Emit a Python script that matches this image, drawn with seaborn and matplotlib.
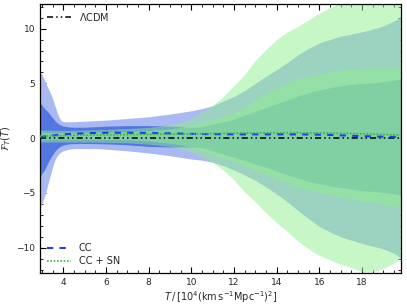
import numpy as np
import seaborn as sns
import matplotlib
import matplotlib.pyplot as plt

matplotlib.use("Agg")
sns.set_style("ticks")
plt.rcParams["font.family"] = ["DejaVu Sans"]
plt.rcParams["mathtext.fontset"] = "dejavusans"

# T grid (10^4 (km/s/Mpc)^2)
T = [2.9, 3.0, 3.1, 3.2, 3.3, 3.4, 3.5, 3.6, 3.7, 3.8, 3.9, 4.0, 4.25, 4.5,
     5.0, 5.5, 6.0, 7.0, 8.0, 9.0, 9.5, 10.0, 10.5, 11.0, 11.5, 12.0, 12.5,
     13.0, 13.5, 14.0, 14.5, 15.0, 15.5, 16.0, 16.5, 17.0, 17.5, 18.0, 18.5,
     19.0, 19.5, 19.8]

# CC reconstruction: mean and 1/2 sigma bands
cc_mean = [0.10, 0.12, 0.15, 0.18, 0.20, 0.22, 0.25, 0.27, 0.29, 0.31, 0.33, 0.35,
           0.38, 0.41, 0.45, 0.48, 0.50, 0.50, 0.48, 0.44, 0.42, 0.40, 0.38, 0.37,
           0.36, 0.35, 0.35, 0.35, 0.35, 0.35, 0.35, 0.35, 0.34, 0.32, 0.30, 0.26,
           0.22, 0.19, 0.16, 0.14, 0.12, 0.10]
cc_hi1 = [3.3, 3.0, 2.75, 2.55, 2.35, 2.1, 1.85, 1.6, 1.42, 1.28, 1.18, 1.1, 1.03, 1.0,
          1.0, 1.05, 1.1, 1.15, 1.15, 1.1, 1.05, 1.0, 1.05, 1.3, 1.5, 1.75, 2.1,
          2.45, 2.8, 3.15, 3.5, 3.85, 4.15, 4.4, 4.6, 4.8, 4.9, 5.0, 5.05, 5.15, 5.3, 5.4]
cc_lo1 = [-3.6, -3.2, -2.95, -2.55, -2.15, -1.8, -1.5, -1.2, -0.98, -0.82, -0.7, -0.62,
          -0.52, -0.5, -0.48, -0.5, -0.52, -0.6, -0.75, -0.8, -0.8, -0.8, -0.85, -1.15,
          -1.45, -1.75, -2.05, -2.35, -2.65, -3.0, -3.35, -3.65, -3.95, -4.15, -4.35,
          -4.5, -4.65, -4.8, -4.85, -4.95, -5.1, -5.2]
cc_hi2 = [6.1, 5.8, 5.4, 4.9, 4.5, 4.1, 3.6, 3.0, 2.4, 1.9, 1.6, 1.5, 1.5, 1.5,
          1.55, 1.6, 1.65, 1.8, 1.95, 2.2, 2.35, 2.5, 2.7, 2.95, 3.4, 3.8, 4.35,
          5.0, 5.65, 6.25, 6.9, 7.6, 8.2, 8.7, 9.0, 9.3, 9.5, 9.7, 9.95, 10.25, 10.7, 11.0]
cc_lo2 = [-6.3, -5.9, -5.4, -4.8, -4.0, -3.3, -2.6, -2.0, -1.65, -1.4, -1.25, -1.15,
          -1.0, -0.95, -0.95, -0.95, -1.0, -1.15, -1.35, -1.6, -1.75, -1.9, -2.0, -2.2,
          -2.5, -2.9, -3.35, -3.85, -4.45, -5.1, -5.8, -6.6, -7.35, -8.05, -8.55,
          -9.0, -9.3, -9.6, -9.85, -10.1, -10.5, -10.9]

# CC + SN reconstruction
ccsn_mean = [0.20, 0.20, 0.20, 0.20, 0.21, 0.21, 0.21, 0.21, 0.22, 0.22, 0.22, 0.22,
             0.24, 0.25, 0.28, 0.29, 0.30, 0.33, 0.35, 0.37, 0.38, 0.40, 0.41, 0.43,
             0.44, 0.46, 0.47, 0.48, 0.49, 0.50, 0.50, 0.50, 0.49, 0.48, 0.47, 0.45,
             0.43, 0.40, 0.38, 0.35, 0.32, 0.30]
ccsn_hi1 = [0.5, 0.5, 0.5, 0.5, 0.5, 0.5, 0.5, 0.5, 0.5, 0.5, 0.5, 0.5, 0.5, 0.5,
            0.5, 0.52, 0.55, 0.6, 0.7, 0.85, 1.0, 1.2, 1.45, 1.65, 1.95, 2.3, 2.8,
            3.5, 4.1, 4.6, 5.0, 5.4, 5.65, 5.9, 6.05, 6.2, 6.3, 6.4, 6.4, 6.4, 6.4, 6.4]
ccsn_lo1 = [-0.1, -0.1, -0.1, -0.1, -0.1, -0.1, -0.1, -0.1, -0.1, -0.1, -0.1, -0.1,
            -0.1, -0.1, -0.1, -0.11, -0.12, -0.15, -0.25, -0.45, -0.6, -0.85, -1.15,
            -1.45, -1.8, -2.1, -2.5, -2.95, -3.35, -3.7, -4.1, -4.45, -4.7, -4.9,
            -5.15, -5.4, -5.55, -5.7, -5.85, -6.0, -6.2, -6.3]
ccsn_hi2 = [0.75, 0.75, 0.74, 0.74, 0.73, 0.73, 0.72, 0.72, 0.72, 0.72, 0.72, 0.72,
            0.72, 0.72, 0.74, 0.77, 0.8, 0.88, 0.98, 1.2, 1.45, 1.8, 2.4, 3.0, 3.8,
            4.8, 5.8, 7.1, 8.1, 9.0, 9.7, 10.2, 10.8, 11.4, 11.9, 12.4, 12.8, 13.2,
            13.5, 13.8, 14.0, 14.1]
ccsn_lo2 = [-0.35, -0.35, -0.35, -0.35, -0.35, -0.35, -0.35, -0.35, -0.35, -0.35,
            -0.35, -0.35, -0.35, -0.35, -0.35, -0.35, -0.38, -0.42, -0.55, -0.75,
            -0.95, -1.25, -1.7, -2.2, -2.9, -3.8, -4.9, -5.8, -6.8, -7.7, -8.5, -9.4,
            -10.1, -10.7, -11.1, -11.5, -11.8, -12.2, -12.2, -11.9, -11.4, -11.0]

# LCDM reference
lcdm = [0.0] * len(T)

fig, ax = plt.subplots(figsize=(4.07, 3.05), dpi=100)
fig.subplots_adjust(left=0.098, right=0.985, top=0.987, bottom=0.105)

ax.fill_between(T, cc_lo2, cc_hi2, color="#aab9f1", lw=0, zorder=1)
ax.fill_between(T, cc_lo1, cc_hi1, color="#5277e3", lw=0, zorder=1)
ax.fill_between(T, ccsn_lo2, ccsn_hi2, color="#90ee90", alpha=0.5, lw=0, zorder=2)
ax.fill_between(T, ccsn_lo1, ccsn_hi1, color="#90ee90", alpha=0.5, lw=0, zorder=2)

sns.lineplot(x=T, y=lcdm, ax=ax, color="black", lw=1.1,
             linestyle=(0, (4, 2, 1, 2, 1, 2)), label=r"$\Lambda$CDM", zorder=3)
sns.lineplot(x=T, y=cc_mean, ax=ax, color="#1f3fe6", lw=1.5,
             linestyle=(0, (3, 3)), label="CC", zorder=4)
sns.lineplot(x=T, y=ccsn_mean, ax=ax, color="#3cb043", lw=1.2,
             linestyle=(0, (1, 1)), label="CC + SN", zorder=4)

ax.set_xlim(2.9, 19.83)
ax.set_ylim(-12.3, 12.25)
ax.set_xticks([4, 6, 8, 10, 12, 14, 16, 18])
ax.set_yticks([-10, -5, 0, 5, 10])
ax.minorticks_on()
ax.xaxis.set_minor_locator(matplotlib.ticker.MultipleLocator(0.5))
ax.yaxis.set_minor_locator(matplotlib.ticker.MultipleLocator(1))
ax.tick_params(which="both", direction="in", top=True, right=True, labelsize=6.5,
               color="black")
ax.tick_params(which="major", length=4, width=0.8)
ax.tick_params(which="minor", length=2, width=0.6)
for s in ax.spines.values():
    s.set_color("black")
    s.set_linewidth(0.9)

ax.set_xlabel(r"$T\,/\,[10^4(\mathrm{km\,s^{-1}Mpc^{-1}})^2]$", fontsize=7, labelpad=2)
ax.set_ylabel(r"$\mathcal{F}_T(T)$", fontsize=7, labelpad=2)

lines = ax.get_lines()
ax.get_legend().remove()
leg1 = ax.legend([lines[0]], [r"$\Lambda$CDM"], loc="upper left", frameon=False,
                 fontsize=7, handlelength=2.5, borderaxespad=0.3)
ax.add_artist(leg1)
ax.legend(lines[1:3], ["CC", "CC + SN"], loc="lower left", frameon=False,
          fontsize=7, handlelength=2.5, borderaxespad=0.3, labelspacing=0.3)

plt.savefig("out.png", dpi=100)
